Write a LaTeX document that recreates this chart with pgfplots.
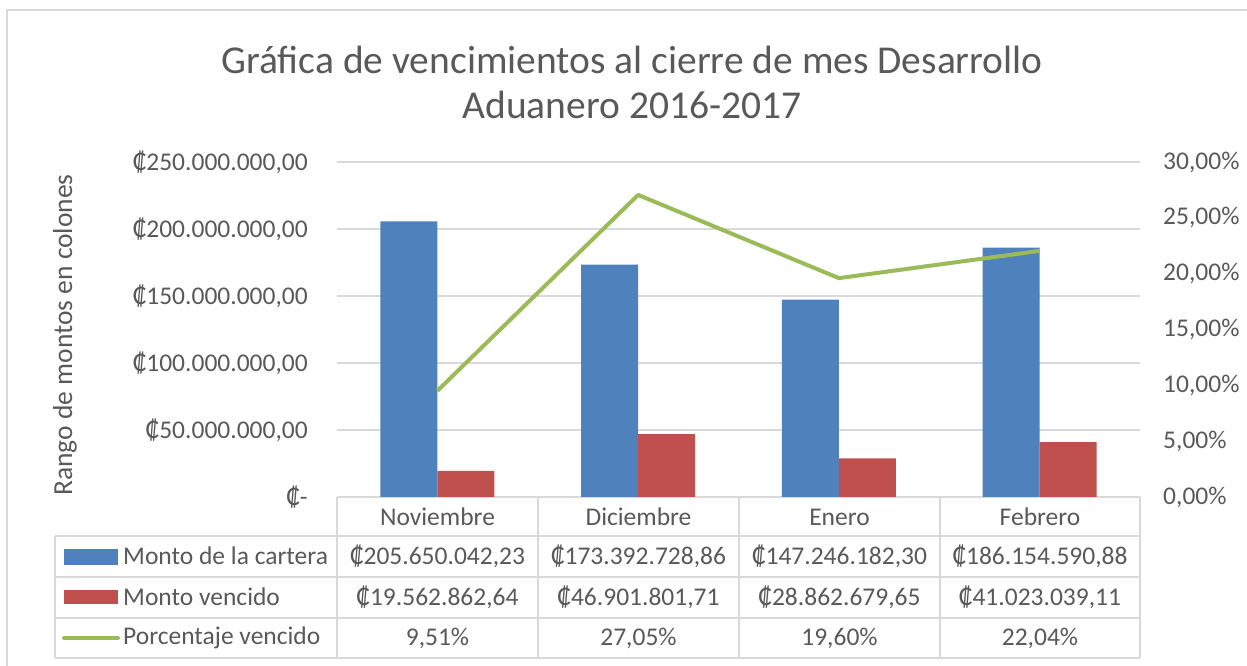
\documentclass[border=0pt]{standalone}
\usepackage{pgfplots}
\pgfplotsset{compat=1.18}
\usepackage{fontspec}
\setmainfont{Carlito}
\definecolor{txt}{HTML}{595959}
\definecolor{gridc}{HTML}{D9D9D9}
\definecolor{barblue}{HTML}{4F81BD}
\definecolor{barred}{HTML}{C0504D}
\definecolor{lgreen}{HTML}{9BBB59}
\newcommand{\base}{\fontsize{25.5}{30}\selectfont}
\begin{document}
\begin{tikzpicture}[x=1pt,y=1pt]
\path[use as bounding box] (0,0) rectangle (1247,666);
\fill[white] (0,0) rectangle (1247,666);
\draw[gridc, line width=2pt] (7,0) -- (7,656) -- (1247,656);
\begin{axis}[at={(337pt,169pt)}, anchor=south west, scale only axis,
  width=803pt, height=335pt, xmin=-0.5, xmax=3.5, ymin=0, ymax=250000000,
  ybar=0pt, bar width=57pt, axis line style={draw=none}, major tick length=0pt,
  xtick=\empty, scaled y ticks=false,
  ytick={0,50000000,100000000,150000000,200000000,250000000},
  yticklabels={{₡-\hspace{13pt}},{₡50.000.000,00},{₡100.000.000,00},{₡150.000.000,00},{₡200.000.000,00},{₡250.000.000,00}},
  ymajorgrids, grid style={gridc, line width=1.5pt},
  yticklabel style={font=\base, text=txt, anchor=east, inner sep=0pt, xshift=-29pt}]
\addplot[fill=barblue, draw=none] coordinates {(0,205650042.23) (1,173392728.86) (2,147246182.30) (3,186154590.88)};
\addplot[fill=barred, draw=none] coordinates {(0,19562862.64) (1,46901801.71) (2,28862679.65) (3,41023039.11)};
\end{axis}
\begin{axis}[at={(337pt,169pt)}, anchor=south west, scale only axis,
  width=803pt, height=335pt, xmin=-0.5, xmax=3.5, ymin=0, ymax=30,
  axis y line*=right, axis x line=none, axis line style={draw=none}, major tick length=0pt,
  xtick=\empty, ytick={0,5,10,15,20,25,30},
  yticklabels={{0,00\%},{5,00\%},{10,00\%},{15,00\%},{20,00\%},{25,00\%},{30,00\%}},
  yticklabel style={font=\base, text=txt, anchor=west, inner sep=0pt, xshift=23pt}]
\addplot[lgreen, line width=4pt, line join=round] coordinates {(0,9.51) (1,27.05) (2,19.60) (3,22.04)};
\end{axis}
% data table grid
\begin{scope}[gridc, line width=1.5pt]
\foreach \yy in {130,89,48,8} \draw (55,\yy) -- (1140,\yy);
\draw (55,130) -- (55,8);
\foreach \xx in {337,538,739,940,1140} \draw (\xx,169) -- (\xx,8);
\end{scope}
\begin{scope}[font=\base, text=txt]
\foreach \xx/\nm in {437.5/Noviembre,638.5/Diciembre,839.5/Enero,1040/Febrero} \node at (\xx,149) {\nm};
\node at (437.5,110) {₡205.650.042,23};
\node at (638.5,110) {₡173.392.728,86};
\node at (839.5,110) {₡147.246.182,30};
\node at (1040,110) {₡186.154.590,88};
\node at (437.5,69) {₡19.562.862,64};
\node at (638.5,69) {₡46.901.801,71};
\node at (839.5,69) {₡28.862.679,65};
\node at (1040,69) {₡41.023.039,11};
\node at (437.5,28) {9,51\%};
\node at (638.5,28) {27,05\%};
\node at (839.5,28) {19,60\%};
\node at (1040,28) {22,04\%};
\node[anchor=west, inner sep=0pt] at (123,110) {Monto de la cartera};
\node[anchor=west, inner sep=0pt] at (123,69) {Monto vencido};
\node[anchor=west, inner sep=0pt] at (123,28) {Porcentaje vencido};
\end{scope}
\fill[barblue] (64,101) rectangle (118,117);
\fill[barred] (64,62) rectangle (118,76);
\draw[lgreen, line width=4pt, line cap=round] (64,28) -- (118,28);
\node[font=\fontsize{39.5}{45}\selectfont, text=txt, align=center] at (632,584) {Gráfica de vencimientos al cierre de mes Desarrollo\\Aduanero 2016-2017};
\node[font=\fontsize{27.5}{32}\selectfont, text=txt, rotate=90] at (65,331) {Rango de montos en colones};
\end{tikzpicture}
\end{document}
